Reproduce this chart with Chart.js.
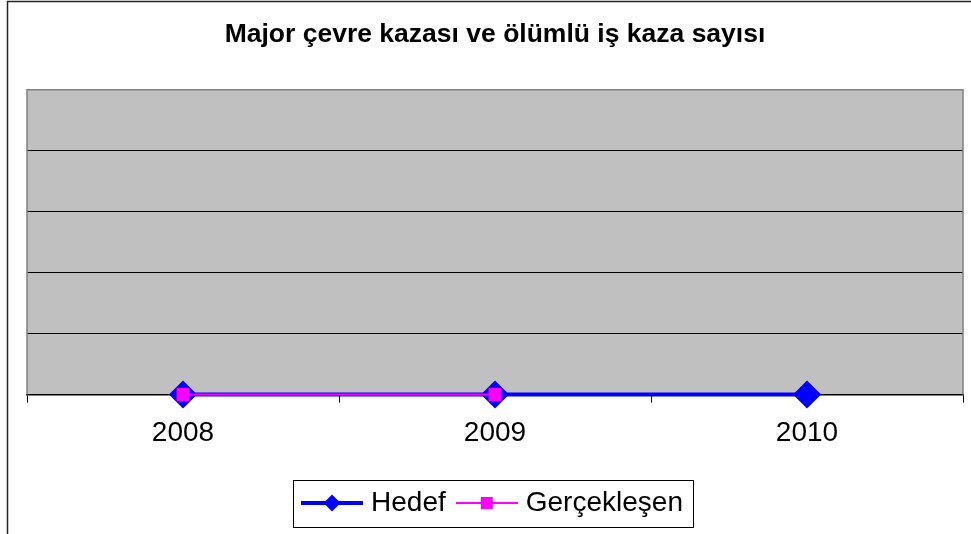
<!DOCTYPE html>
<html>
<head>
<meta charset="utf-8">
<script src="https://cdn.jsdelivr.net/npm/chart.js@4.4.1/dist/chart.umd.min.js"></script>
<style>
  html, body { margin: 0; padding: 0; background: #fff; }
</style>
</head>
<body>
<canvas id="kazaChart" width="971" height="534"></canvas>
<script>
// veriler
const years = ["2008", "2009", "2010"];
const hedef = [0, 0, 0];
const gerceklesen = [0, 0, null];
const yMin = 0;
const yMax = 5;
const yStep = 1;

const FONT = "'Liberation Sans', Arial, sans-serif";

// legend icon: line with marker in the middle
function legendIcon(color, lineW, shape, size) {
  const c = document.createElement("canvas");
  c.width = 62;
  c.height = 22;
  const g = c.getContext("2d");
  g.strokeStyle = color;
  g.lineWidth = lineW;
  g.beginPath();
  g.moveTo(0, 11);
  g.lineTo(62, 11);
  g.stroke();
  g.fillStyle = color;
  g.beginPath();
  if (shape === "diamond") {
    g.moveTo(31, 11 - size);
    g.lineTo(31 + size, 11);
    g.lineTo(31, 11 + size);
    g.lineTo(31 - size, 11);
    g.closePath();
  } else {
    g.rect(31 - size, 11 - size, size * 2, size * 2);
  }
  g.fill();
  return c;
}

const icons = [
  legendIcon("#0000ff", 4, "diamond", 8.5),
  legendIcon("#ff00ff", 2, "square", 6),
];

const framePlugin = {
  id: "frame",
  beforeDraw(chart) {
    const { ctx, chartArea: a } = chart;
    ctx.save();
    ctx.fillStyle = "#c0c0c0";
    ctx.fillRect(a.left, a.top, a.right - a.left, a.bottom - a.top);
    ctx.restore();
  },
  beforeDatasetsDraw(chart) {
    const { ctx, chartArea: a } = chart;
    ctx.save();
    ctx.strokeStyle = "#808080";
    ctx.lineWidth = 1.5;
    ctx.beginPath();
    ctx.moveTo(a.left, a.bottom);
    ctx.lineTo(a.left, a.top);
    ctx.lineTo(a.right, a.top);
    ctx.lineTo(a.right, a.bottom);
    ctx.stroke();
    ctx.restore();
  },
  afterDraw(chart) {
    const ctx = chart.ctx;
    ctx.save();
    // outer chart border (only top and left are in view)
    ctx.strokeStyle = "#222";
    ctx.lineWidth = 1.5;
    ctx.beginPath();
    ctx.moveTo(7.5, chart.height);
    ctx.lineTo(7.5, 1.5);
    ctx.lineTo(chart.width, 1.5);
    ctx.stroke();
    // legend box
    const boxes = chart.legend.legendHitBoxes;
    if (boxes && boxes.length) {
      const left = Math.min(...boxes.map(b => b.left)) - 14;
      const right = Math.max(...boxes.map(b => b.left + b.width)) + 10;
      const top = boxes[0].top - 9.5;
      const bottom = boxes[0].top + boxes[0].height + 9.5;
      ctx.strokeStyle = "#000";
      ctx.lineWidth = 1;
      ctx.strokeRect(Math.round(left) + 0.5, Math.round(top) + 0.5, Math.round(right - left), Math.round(bottom - top));
    }
    ctx.restore();
  },
};

new Chart(document.getElementById("kazaChart"), {
  type: "line",
  data: {
    labels: years,
    datasets: [
      {
        label: "Hedef",
        data: hedef,
        borderColor: "#0000ff",
        backgroundColor: "#0000ff",
        borderWidth: 4,
        pointStyle: "rectRot",
        pointRadius: 13,
        pointBorderWidth: 1.5,
        pointHoverRadius: 13,
        clip: false,
        order: 2,
      },
      {
        label: "Gerçekleşen",
        data: gerceklesen,
        borderColor: "#ff00ff",
        backgroundColor: "#ff00ff",
        borderWidth: 2,
        pointStyle: "rect",
        pointRadius: 8.5,
        pointBorderWidth: 1,
        pointHoverRadius: 8.5,
        clip: false,
        order: 1,
      },
    ],
  },
  options: {
    responsive: false,
    animation: false,
    events: [],
    layout: {
      autoPadding: false,
      padding: { left: 27, right: 8, top: 0, bottom: 7 },
    },
    scales: {
      x: {
        offset: true,
        afterFit: (scale) => { scale.height = 78.5; },
        grid: {
          offset: true,
          drawOnChartArea: false,
          tickLength: 8,
          color: "#000",
          lineWidth: 1,
        },
        border: { display: true, color: "#000", width: 1.5 },
        ticks: {
          color: "#000",
          padding: 14,
          font: { family: FONT, size: 28 },
        },
      },
      y: {
        min: yMin,
        max: yMax,
        afterFit: (scale) => { scale.width = 0; },
        ticks: { display: false, stepSize: yStep },
        border: { display: false },
        grid: {
          drawTicks: false,
          lineWidth: 1,
          color: (c) => (c.tick && c.tick.value === yMax ? "#808080" : "#000"),
        },
      },
    },
    plugins: {
      title: {
        display: true,
        text: "Major çevre kazası ve ölümlü iş kaza sayısı",
        color: "#000",
        font: { family: FONT, size: 26.5, weight: "bold" },
        padding: { top: 19, bottom: 39 },
      },
      legend: {
        position: "bottom",
        labels: {
          color: "#000",
          font: { family: FONT, size: 28 },
          usePointStyle: true,
          pointStyleWidth: 50,
          padding: 16,
          sort: (a, b) => a.datasetIndex - b.datasetIndex,
          generateLabels(chart) {
            const items = Chart.defaults.plugins.legend.labels.generateLabels(chart);
            return items.map((it) => Object.assign(it, { pointStyle: icons[it.datasetIndex] }));
          },
        },
      },
      tooltip: { enabled: false },
    },
  },
  plugins: [framePlugin],
});
</script>
</body>
</html>
